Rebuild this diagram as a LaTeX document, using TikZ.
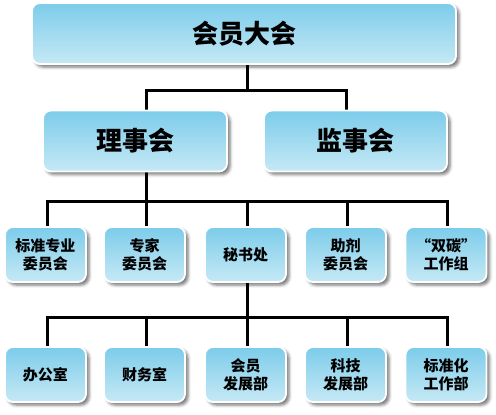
\documentclass[tikz,border=0pt]{standalone}
\usepackage{fontspec}
\newfontfamily\cjk{Noto Sans CJK SC}
\usepackage{tikz}
\usetikzlibrary{shadows.blur,backgrounds}
\definecolor{boxtop}{RGB}{124,204,234}
\definecolor{boxbot}{RGB}{198,233,245}

\begin{document}
\begin{tikzpicture}[x=1pt,y=-1pt,
    org/.style={rounded corners=8pt,draw=white,line width=1.8pt,top color=boxtop,bottom color=boxbot,
      blur shadow={shadow xshift=3pt,shadow yshift=-3pt,shadow blur radius=3pt,shadow opacity=55},
      font=\cjk\bfseries,align=center,inner sep=0pt},
    big/.style={org,minimum height=61pt,font=\cjk\bfseries\fontsize{26}{28}\selectfont},
    small/.style={org,minimum width=81pt,minimum height=55pt,font=\cjk\bfseries\fontsize{15}{18}\selectfont},
    link/.style={line width=3pt}]
  \useasboundingbox (0,0) rectangle (496,415);
  \node[big,minimum width=424pt] (hy) at (244,33.5) {会员大会};
  \node[big,minimum width=184pt] (lsh) at (135,141) {理事会};
  \node[big,minimum width=183pt] (jsh) at (355.5,141) {监事会};
  \foreach \nm/\x/\txt in {bz/45.5/{标准专业\\委员会},zj/144.5/{专家\\委员会},msc/245.5/秘书处,zj2/345.5/{助剂\\委员会},st/446/{“双碳”\\工作组}}
    \node[small] (\nm) at (\x,254.5) {\txt};
  \foreach \nm/\x/\txt in {bgs/45.5/办公室,cws/144.5/财务室,hy2/245.5/{会员\\发展部},kj/345.5/{科技\\发展部},bzh/446/{标准化\\工作部}}
    \node[small] (\nm) at (\x,374.5) {\txt};
  \begin{scope}[on background layer]
    \draw[link] ([xshift=3pt]hy.south) -- ++(0,26) coordinate (b1);
    \draw[link] (b1) -| ([xshift=11pt]lsh.north);
    \draw[link] (b1) -| ([xshift=-9pt]jsh.north);
    \draw[link] ([xshift=11pt]lsh.south) -- ++(0,29) coordinate (b2);
    \foreach \nm in {bz,zj,msc,zj2,st} \draw[link] (b2) -| ([xshift=1.5pt]\nm.north);
    \draw[link] ([xshift=1.5pt]msc.south) -- ++(0,35) coordinate (b3);
    \foreach \nm in {bgs,cws,hy2,kj,bzh} \draw[link] (b3) -| ([xshift=1.5pt]\nm.north);
  \end{scope}
\end{tikzpicture}
\end{document}
